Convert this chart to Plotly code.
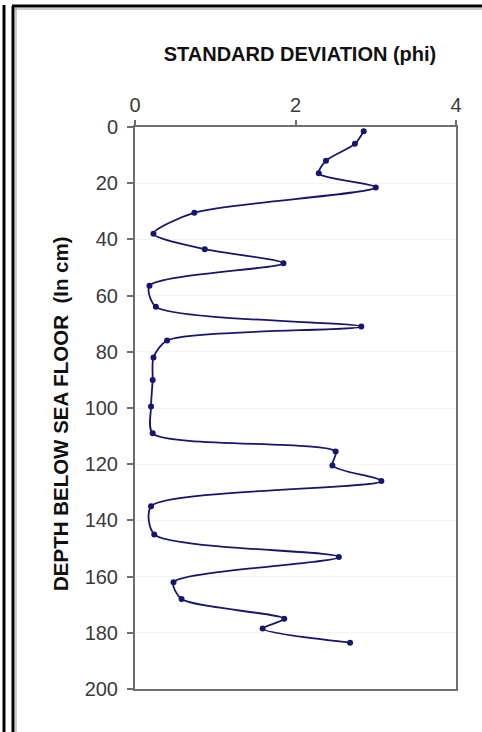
import plotly.graph_objects as go

# Sediment core: sorting (standard deviation, phi) against depth below sea floor
depth_cm = [1.5, 6, 12, 16.5, 21.5, 30.5, 38, 43.5, 48.5, 56.5, 64, 71, 76, 82,
            90, 99.5, 109, 115.5, 120.5, 126, 135, 145, 153, 162, 168, 175,
            178.5, 183.5]
std_phi = [2.85, 2.74, 2.38, 2.29, 3.00, 0.74, 0.23, 0.87, 1.85, 0.18, 0.26,
           2.82, 0.40, 0.23, 0.22, 0.20, 0.22, 2.50, 2.46, 3.07, 0.20, 0.24,
           2.54, 0.48, 0.58, 1.86, 1.59, 2.68]

x_ticks = [0, 2, 4]
y_ticks = [0, 20, 40, 60, 80, 100, 120, 140, 160, 180, 200]

W, H = 482, 732
L, R, T, B = 135, 26, 127, 43
PW, PH = W - L - R, H - T - B


def px_x(p):
    return (p - L) / PW


def px_y(p):
    return (H - B - p) / PH


FONT = "Liberation Sans, Arial, sans-serif"
LINE_COL = "#16166e"

fig = go.Figure()
fig.add_trace(go.Scatter(
    x=std_phi, y=depth_cm, mode="lines+markers",
    line=dict(color=LINE_COL, width=1.8, shape="spline", smoothing=0.75),
    marker=dict(color=LINE_COL, size=6),
    showlegend=False, hoverinfo="x+y",
))

# frame lines around the figure
frame = dict(type="line", xref="paper", yref="paper", line=dict(color="black", width=3))
fig.add_shape(**frame, x0=px_x(4), x1=px_x(4), y0=px_y(5), y1=px_y(H + 5))
fig.add_shape(**frame, x0=px_x(13), x1=px_x(13), y0=px_y(6), y1=px_y(H + 5))
fig.add_shape(**frame, x0=px_x(12), x1=px_x(W + 5), y0=px_y(6), y1=px_y(6))
fig.add_shape(type="line", xref="paper", yref="paper",
              line=dict(color="#9a9a9a", width=1),
              x0=px_x(16), x1=px_x(16), y0=px_y(8), y1=px_y(H + 5))
fig.add_shape(type="line", xref="paper", yref="paper",
              line=dict(color="#9a9a9a", width=1),
              x0=px_x(15), x1=px_x(W + 5), y0=px_y(9), y1=px_y(9))

fig.add_annotation(
    text="<b>DEPTH BELOW SEA FLOOR  (In cm)</b>", textangle=-90,
    xref="paper", yref="paper", x=px_x(60), y=px_y(414),
    xanchor="center", yanchor="middle", showarrow=False,
    font=dict(family=FONT, size=20.5, color="#111111"),
)

fig.update_layout(
    width=W, height=H,
    margin=dict(l=L, r=R, t=T, b=B),
    paper_bgcolor="white", plot_bgcolor="white",
    title=dict(
        text="<b>STANDARD DEVIATION (phi)</b>",
        x=px_x(300), xref="paper", xanchor="center",
        y=1 - 54 / H, yref="container", yanchor="middle",
        font=dict(family=FONT, size=20, color="#111111"),
    ),
    xaxis=dict(
        side="top", range=[0, 4], tickvals=x_ticks,
        showgrid=False, zeroline=False,
        showline=True, linecolor="#6e6e6e", linewidth=2, mirror=True,
        ticks="outside", ticklen=5, tickcolor="#6e6e6e", tickwidth=1.5,
        tickfont=dict(family=FONT, size=20, color="#3a3a3a"),
    ),
    yaxis=dict(
        range=[200, 0], tickvals=y_ticks,
        showgrid=True, gridcolor="#f3f3f3", gridwidth=1, zeroline=False,
        showline=True, linecolor="#6e6e6e", linewidth=2, mirror=True,
        ticks="outside", ticklen=6, tickcolor="#6e6e6e", tickwidth=1.5,
        ticklabelstandoff=5,
        tickfont=dict(family=FONT, size=20, color="#3a3a3a"),
    ),
)

fig.write_html("out.html")
